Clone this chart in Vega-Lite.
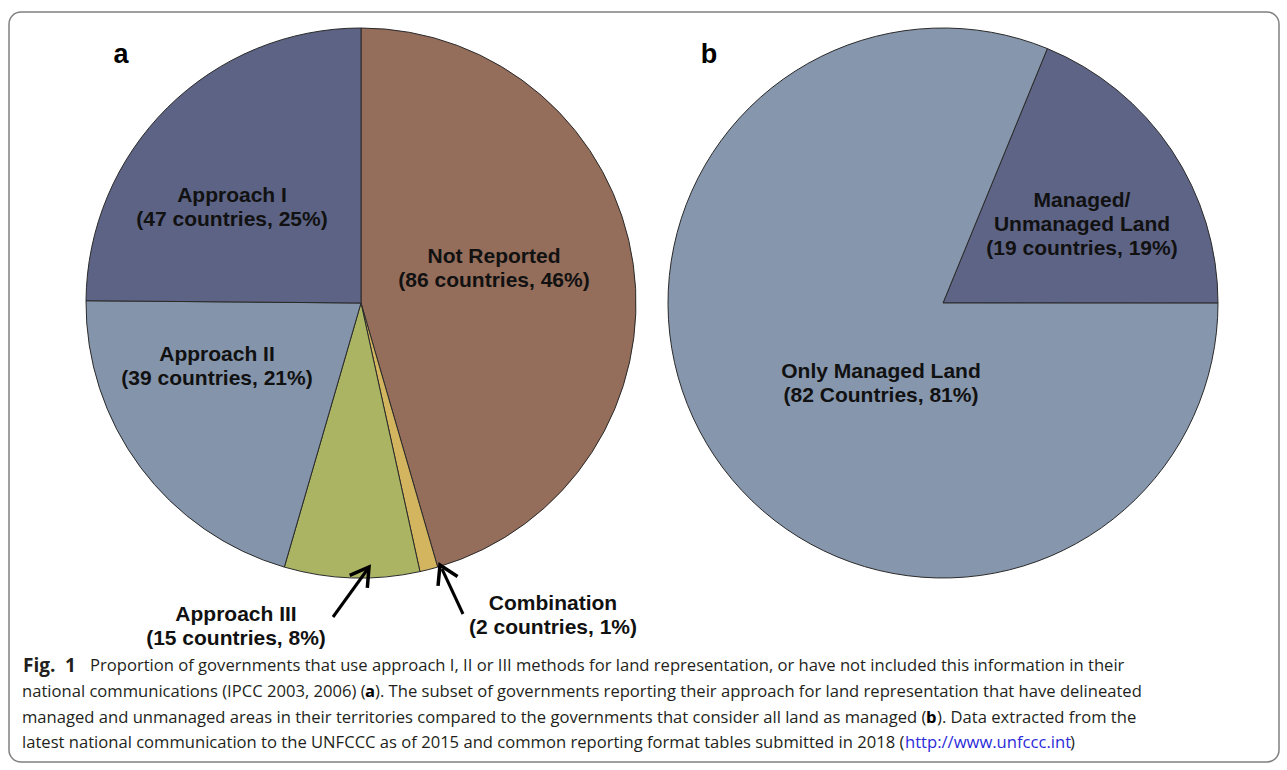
{
  "$schema": "https://vega.github.io/schema/vega-lite/v6.json",
  "width": 1287,
  "height": 770,
  "autosize": {"type": "fit", "contains": "padding"},
  "padding": {"left": 9, "top": 12, "right": 8, "bottom": 8},
  "background": "white",
  "config": {"view": {"stroke": "#808080", "strokeWidth": 1.5, "cornerRadius": 12}},
  "datasets": {
    "pieA": [
      {"cat": "Not Reported", "n": 86, "ord": 1, "label": "Not Reported\n(86 countries, 46%)"},
      {"cat": "Combination", "n": 2, "ord": 2, "label": "Combination\n(2 countries, 1%)"},
      {"cat": "Approach III", "n": 15, "ord": 3, "label": "Approach III\n(15 countries, 8%)"},
      {"cat": "Approach II", "n": 39, "ord": 4, "label": "Approach II\n(39 countries, 21%)"},
      {"cat": "Approach I", "n": 47, "ord": 5, "label": "Approach I\n(47 countries, 25%)"}
    ],
    "pieB": [
      {"cat": "Managed/Unmanaged Land", "n": 19, "ord": 1, "label": "Managed/\nUnmanaged Land\n(19 countries, 19%)"},
      {"cat": "Only Managed Land", "n": 82, "ord": 2, "label": "Only Managed Land\n(82 Countries, 81%)"}
    ],
    "note": [{"k": 1}]
  },
  "resolve": {"scale": {"theta": "independent"}},
  "layer": [
    {
      "data": {"name": "pieA"},
      "mark": {"type": "arc", "radius": 275, "stroke": "#2a2a2a", "strokeWidth": 1},
      "encoding": {
        "x": {"datum": 361, "type": "quantitative", "axis": null, "scale": {"domain": [9, 1279], "nice": false, "zero": false}},
        "y": {"datum": 303, "type": "quantitative", "axis": null, "scale": {"domain": [12, 762], "reverse": true, "nice": false, "zero": false}},
        "theta": {"field": "n", "type": "quantitative", "stack": true},
        "order": {"field": "ord", "type": "quantitative"},
        "color": {"field": "cat", "type": "nominal", "legend": null,
          "scale": {"domain": ["Not Reported", "Combination", "Approach III", "Approach II", "Approach I", "Managed/Unmanaged Land", "Only Managed Land"],
                    "range": ["#946d5b", "#d3b45f", "#abb463", "#8495ab", "#5c6384", "#5e6485", "#8696ac"]}}
      }
    },
    {
      "data": {"name": "pieB"},
      "mark": {"type": "arc", "radius": 275, "stroke": "#2a2a2a", "strokeWidth": 1},
      "encoding": {
        "x": {"datum": 943, "type": "quantitative", "axis": null},
        "y": {"datum": 303, "type": "quantitative", "axis": null},
        "theta": {"field": "n", "type": "quantitative", "stack": true, "scale": {"range": [0.3892, 6.6724]}},
        "order": {"field": "ord", "type": "quantitative"},
        "color": {"field": "cat", "type": "nominal", "legend": null,
          "scale": {"domain": ["Not Reported", "Combination", "Approach III", "Approach II", "Approach I", "Managed/Unmanaged Land", "Only Managed Land"],
                    "range": ["#946d5b", "#d3b45f", "#abb463", "#8495ab", "#5c6384", "#5e6485", "#8696ac"]}}
      }
    },
    {
      "data": {"name": "pieA"},
      "transform": [{"filter": "datum.cat === 'Approach I'"}],
      "mark": {"type": "text", "font": "Liberation Sans", "fontWeight": "bold", "fontSize": 21, "lineBreak": "\n", "lineHeight": 24, "align": "center", "baseline": "middle", "color": "#111111"},
      "encoding": {"x": {"datum": 232, "type": "quantitative", "axis": null}, "y": {"datum": 196, "type": "quantitative", "axis": null}, "text": {"field": "label"}}
    },
    {
      "data": {"name": "pieA"},
      "transform": [{"filter": "datum.cat === 'Not Reported'"}],
      "mark": {"type": "text", "font": "Liberation Sans", "fontWeight": "bold", "fontSize": 21, "lineBreak": "\n", "lineHeight": 24, "align": "center", "baseline": "middle", "color": "#111111"},
      "encoding": {"x": {"datum": 494, "type": "quantitative", "axis": null}, "y": {"datum": 257, "type": "quantitative", "axis": null}, "text": {"field": "label"}}
    },
    {
      "data": {"name": "pieA"},
      "transform": [{"filter": "datum.cat === 'Approach II'"}],
      "mark": {"type": "text", "font": "Liberation Sans", "fontWeight": "bold", "fontSize": 21, "lineBreak": "\n", "lineHeight": 24, "align": "center", "baseline": "middle", "color": "#111111"},
      "encoding": {"x": {"datum": 217, "type": "quantitative", "axis": null}, "y": {"datum": 355, "type": "quantitative", "axis": null}, "text": {"field": "label"}}
    },
    {
      "data": {"name": "pieA"},
      "transform": [{"filter": "datum.cat === 'Approach III'"}],
      "mark": {"type": "text", "font": "Liberation Sans", "fontWeight": "bold", "fontSize": 21, "lineBreak": "\n", "lineHeight": 24, "align": "center", "baseline": "middle", "color": "#111111"},
      "encoding": {"x": {"datum": 236, "type": "quantitative", "axis": null}, "y": {"datum": 615, "type": "quantitative", "axis": null}, "text": {"field": "label"}}
    },
    {
      "data": {"name": "pieA"},
      "transform": [{"filter": "datum.cat === 'Combination'"}],
      "mark": {"type": "text", "font": "Liberation Sans", "fontWeight": "bold", "fontSize": 21, "lineBreak": "\n", "lineHeight": 24, "align": "center", "baseline": "middle", "color": "#111111"},
      "encoding": {"x": {"datum": 553, "type": "quantitative", "axis": null}, "y": {"datum": 604, "type": "quantitative", "axis": null}, "text": {"field": "label"}}
    },
    {
      "data": {"name": "pieB"},
      "transform": [{"filter": "datum.cat === 'Only Managed Land'"}],
      "mark": {"type": "text", "font": "Liberation Sans", "fontWeight": "bold", "fontSize": 21, "lineBreak": "\n", "lineHeight": 24, "align": "center", "baseline": "middle", "color": "#111111"},
      "encoding": {"x": {"datum": 881, "type": "quantitative", "axis": null}, "y": {"datum": 372, "type": "quantitative", "axis": null}, "text": {"field": "label"}}
    },
    {
      "data": {"name": "pieB"},
      "transform": [{"filter": "datum.cat === 'Managed/Unmanaged Land'"}],
      "mark": {"type": "text", "font": "Liberation Sans", "fontWeight": "bold", "fontSize": 21, "lineBreak": "\n", "lineHeight": 24, "align": "center", "baseline": "middle", "color": "#111111"},
      "encoding": {"x": {"datum": 1082, "type": "quantitative", "axis": null}, "y": {"datum": 201, "type": "quantitative", "axis": null}, "text": {"field": "label"}}
    },
    {
      "data": {"name": "note"},
      "mark": {"type": "text", "text": "a", "font": "Liberation Sans", "fontWeight": "bold", "fontSize": 27, "align": "center", "baseline": "middle", "color": "#000000"},
      "encoding": {"x": {"datum": 121, "type": "quantitative", "axis": null}, "y": {"datum": 55, "type": "quantitative", "axis": null}}
    },
    {
      "data": {"name": "note"},
      "mark": {"type": "text", "text": "b", "font": "Liberation Sans", "fontWeight": "bold", "fontSize": 27, "align": "center", "baseline": "middle", "color": "#000000"},
      "encoding": {"x": {"datum": 709, "type": "quantitative", "axis": null}, "y": {"datum": 55, "type": "quantitative", "axis": null}}
    },
    {
      "data": {"name": "note"},
      "mark": {"type": "rule", "stroke": "#000000", "strokeWidth": 3},
      "encoding": {"x": {"datum": 333, "type": "quantitative", "axis": null}, "y": {"datum": 617, "type": "quantitative", "axis": null}, "x2": {"datum": 367}, "y2": {"datum": 570}}
    },
    {
      "data": {"name": "note"},
      "mark": {"type": "point", "shape": "M-0.6,1L0,0L0.6,1", "filled": false, "stroke": "#000000", "strokeWidth": 3.5, "size": 1300, "angle": 35.5, "opacity": 1, "strokeJoin": "miter"},
      "encoding": {"x": {"datum": 369, "type": "quantitative", "axis": null}, "y": {"datum": 567, "type": "quantitative", "axis": null}}
    },
    {
      "data": {"name": "note"},
      "mark": {"type": "rule", "stroke": "#000000", "strokeWidth": 3},
      "encoding": {"x": {"datum": 463, "type": "quantitative", "axis": null}, "y": {"datum": 614, "type": "quantitative", "axis": null}, "x2": {"datum": 442}, "y2": {"datum": 569}}
    },
    {
      "data": {"name": "note"},
      "mark": {"type": "point", "shape": "M-0.6,1L0,0L0.6,1", "filled": false, "stroke": "#000000", "strokeWidth": 3.5, "size": 1300, "angle": -25.6, "opacity": 1, "strokeJoin": "miter"},
      "encoding": {"x": {"datum": 440, "type": "quantitative", "axis": null}, "y": {"datum": 565, "type": "quantitative", "axis": null}}
    },
    {
      "data": {"name": "note"},
      "mark": {"type": "text", "text": "Fig.", "font": "Open Sans", "fontWeight": "bold", "fontSize": 19, "align": "left", "baseline": "middle", "color": "#231f20"},
      "encoding": {"x": {"datum": 23, "type": "quantitative", "axis": null}, "y": {"datum": 666, "type": "quantitative", "axis": null}}
    },
    {
      "data": {"name": "note"},
      "mark": {"type": "text", "text": "1", "font": "Open Sans", "fontWeight": "bold", "fontSize": 19, "align": "left", "baseline": "middle", "color": "#231f20"},
      "encoding": {"x": {"datum": 65, "type": "quantitative", "axis": null}, "y": {"datum": 666, "type": "quantitative", "axis": null}}
    },
    {
      "data": {"name": "note"},
      "mark": {"type": "text", "text": "Proportion of governments that use approach I, II or III methods for land representation, or have not included this information in their", "font": "Open Sans", "fontSize": 16.6, "align": "left", "baseline": "middle", "color": "#231f20"},
      "encoding": {"x": {"datum": 90, "type": "quantitative", "axis": null}, "y": {"datum": 666, "type": "quantitative", "axis": null}}
    },
    {
      "data": {"name": "note"},
      "mark": {"type": "text", "text": "national communications (IPCC 2003, 2006) (", "font": "Open Sans", "fontSize": 16.6, "align": "left", "baseline": "middle", "color": "#231f20"},
      "encoding": {"x": {"datum": 22, "type": "quantitative", "axis": null}, "y": {"datum": 692, "type": "quantitative", "axis": null}}
    },
    {
      "data": {"name": "note"},
      "mark": {"type": "text", "text": "a", "font": "Open Sans", "fontWeight": "bold", "fontSize": 16.6, "align": "left", "baseline": "middle", "color": "#000000"},
      "encoding": {"x": {"datum": 365, "type": "quantitative", "axis": null}, "y": {"datum": 692, "type": "quantitative", "axis": null}}
    },
    {
      "data": {"name": "note"},
      "mark": {"type": "text", "text": "). The subset of governments reporting their approach for land representation that have delineated", "font": "Open Sans", "fontSize": 16.6, "align": "left", "baseline": "middle", "color": "#231f20"},
      "encoding": {"x": {"datum": 375, "type": "quantitative", "axis": null}, "y": {"datum": 692, "type": "quantitative", "axis": null}}
    },
    {
      "data": {"name": "note"},
      "mark": {"type": "text", "text": "managed and unmanaged areas in their territories compared to the governments that consider all land as managed (", "font": "Open Sans", "fontSize": 16.6, "align": "left", "baseline": "middle", "color": "#231f20"},
      "encoding": {"x": {"datum": 22, "type": "quantitative", "axis": null}, "y": {"datum": 718, "type": "quantitative", "axis": null}}
    },
    {
      "data": {"name": "note"},
      "mark": {"type": "text", "text": "b", "font": "Open Sans", "fontWeight": "bold", "fontSize": 16.6, "align": "left", "baseline": "middle", "color": "#000000"},
      "encoding": {"x": {"datum": 926, "type": "quantitative", "axis": null}, "y": {"datum": 718, "type": "quantitative", "axis": null}}
    },
    {
      "data": {"name": "note"},
      "mark": {"type": "text", "text": "). Data extracted from the", "font": "Open Sans", "fontSize": 16.6, "align": "left", "baseline": "middle", "color": "#231f20"},
      "encoding": {"x": {"datum": 937, "type": "quantitative", "axis": null}, "y": {"datum": 718, "type": "quantitative", "axis": null}}
    },
    {
      "data": {"name": "note"},
      "mark": {"type": "text", "text": "latest national communication to the UNFCCC as of 2015 and common reporting format tables submitted in 2018 (", "font": "Open Sans", "fontSize": 16.6, "align": "left", "baseline": "middle", "color": "#231f20"},
      "encoding": {"x": {"datum": 22, "type": "quantitative", "axis": null}, "y": {"datum": 743, "type": "quantitative", "axis": null}}
    },
    {
      "data": {"name": "note"},
      "mark": {"type": "text", "text": "http://www.unfccc.int", "font": "Open Sans", "fontSize": 16.6, "align": "left", "baseline": "middle", "color": "#2b2bd9"},
      "encoding": {"x": {"datum": 905, "type": "quantitative", "axis": null}, "y": {"datum": 743, "type": "quantitative", "axis": null}}
    },
    {
      "data": {"name": "note"},
      "mark": {"type": "text", "text": ")", "font": "Open Sans", "fontSize": 16.6, "align": "left", "baseline": "middle", "color": "#231f20"},
      "encoding": {"x": {"datum": 1070, "type": "quantitative", "axis": null}, "y": {"datum": 743, "type": "quantitative", "axis": null}}
    }
  ]
}
